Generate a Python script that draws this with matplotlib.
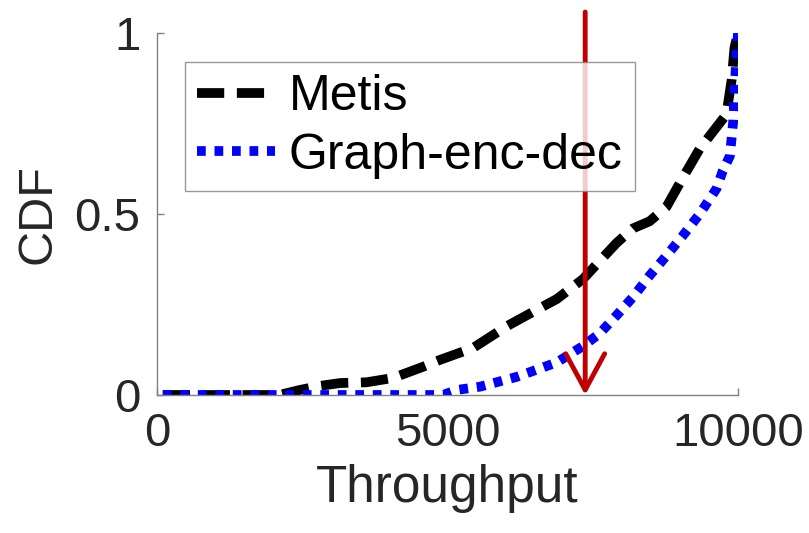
import matplotlib
matplotlib.use("Agg")
import matplotlib.pyplot as plt

plt.rcParams['font.family'] = ['Liberation Sans', 'DejaVu Sans']

# Data
metis_x = [100, 2100, 2460, 2800, 3150, 3600, 4060, 4580, 4870, 5440, 6020, 6590,
           6880, 7330, 7910, 8190, 8480, 8770, 9050, 9340, 9630, 9800, 9890, 9940, 10000]
metis_y = [0, 0, 0.014, 0.025, 0.033, 0.035, 0.047, 0.078, 0.097, 0.13, 0.19, 0.24,
           0.265, 0.32, 0.42, 0.46, 0.48, 0.52, 0.60, 0.68, 0.74, 0.775, 0.87, 0.96, 1.0]

ged_x = [100, 4920, 5160, 5560, 6190, 6880, 7330, 7620, 7910, 8190, 8480, 8770,
         9050, 9340, 9630, 9740, 9860, 9920, 9950, 10000]
ged_y = [0, 0, 0.014, 0.023, 0.05, 0.09, 0.135, 0.17, 0.22, 0.27, 0.33, 0.385,
         0.44, 0.50, 0.57, 0.62, 0.66, 0.76, 0.87, 1.0]

labels = ["Metis", "Graph-enc-dec"]
x_ticks = [0, 5000, 10000]
y_ticks = [0, 0.5, 1]
y_ticklabels = ["0", "0.5", "1"]
arrow_x = 7370
arrow_top = 1.058

fig = plt.figure(figsize=(8.09, 5.33), dpi=100)
ax = fig.add_axes([157/809, 1-395/533, (738-157)/809, (395-33)/533])

ax.plot(metis_x, metis_y, color='black', lw=7, linestyle=(0, (2.8, 1.3)),
        dash_capstyle='butt', label=labels[0])
ax.plot(ged_x, ged_y, color='#0000ff', lw=7, linestyle=(0, (0.9, 0.9)),
        dash_capstyle='butt', label=labels[1])

ax.set_xlim(0, 10000)
ax.set_ylim(0, 1)
ax.set_xticks(x_ticks)
ax.set_xticklabels([str(t) for t in x_ticks])
ax.set_yticks(y_ticks)
ax.set_yticklabels(y_ticklabels)

for s in ['top', 'right']:
    ax.spines[s].set_visible(False)
for s in ['left', 'bottom']:
    ax.spines[s].set_color('#808080')
    ax.spines[s].set_linewidth(1.0)

ax.tick_params(direction='in', length=5, width=1, color='#808080',
               labelsize=34, labelcolor='#262626', pad=12)
ax.set_xlabel("Throughput", fontsize=37, color='#262626', labelpad=6)
ax.set_ylabel("CDF", fontsize=35, color='#262626', labelpad=10)

leg = ax.legend(loc='upper left', bbox_to_anchor=(0.048, 0.92), borderaxespad=0,
                fontsize=36, frameon=True, fancybox=False, handlelength=1.55,
                handletextpad=0.28, labelspacing=0.25, borderpad=0.25)
leg.get_frame().set_edgecolor('#808080')
leg.get_frame().set_linewidth(1.0)

ax.annotate("", xy=(arrow_x, 0), xytext=(arrow_x, arrow_top),
            arrowprops=dict(arrowstyle='->,head_length=2.6,head_width=1.4',
                            mutation_scale=10, color='#c00000', lw=3.5,
                            shrinkA=0, shrinkB=0),
            annotation_clip=False)

fig.savefig("out.png", dpi=100)
